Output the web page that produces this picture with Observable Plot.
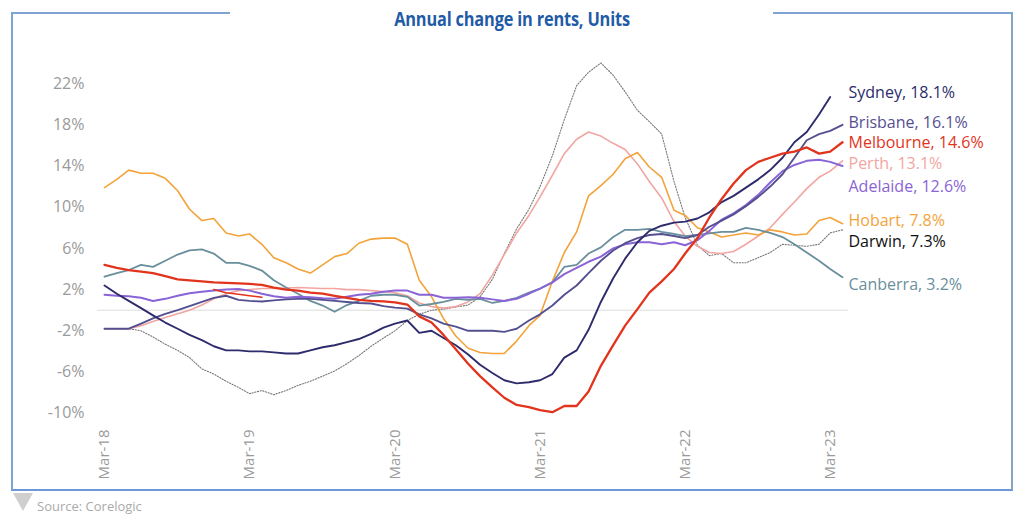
<!DOCTYPE html>
<html><head><meta charset="utf-8">
<script src="https://cdn.jsdelivr.net/npm/d3@7"></script>
<script src="https://cdn.jsdelivr.net/npm/@observablehq/plot@0.6"></script>
<style>
body{margin:0;background:#fff;width:1024px;height:527px;position:relative;overflow:hidden;font-family:"Open Sans",sans-serif;}
#chart{position:absolute;left:0;top:0;}
#frame{position:absolute;left:11px;top:12px;width:1002px;height:479px;box-sizing:border-box;border-left:2px solid #7fa3d3;border-right:2px solid #86a6bf;border-bottom:2px solid #6d98d8;pointer-events:none;}
.topline{position:absolute;top:12px;height:2px;background:#7fa3d3;}
#titlewrap{position:absolute;top:6px;left:0;width:1024px;text-align:center;}
#title{display:inline-block;font-family:"Open Sans",sans-serif;font-weight:bold;font-size:19px;color:#1f5ba7;transform:scaleX(0.86);transform-origin:center;letter-spacing:-0.2px;}
#tri{position:absolute;left:13px;top:493px;width:0;height:0;border-left:10px solid transparent;border-right:10px solid transparent;border-top:18px solid #cfcfcf;}
#source{position:absolute;left:37px;top:497px;font-size:13px;color:#aaa;font-family:"Open Sans",sans-serif;}
</style></head>
<body>
<div id="chart"></div>
<div id="frame"></div>
<div class="topline" style="left:11px;width:219px"></div>
<div class="topline" style="left:773px;width:240px"></div>
<div id="titlewrap"><span id="title">Annual change in rents, Units</span></div>
<div id="tri"></div>
<div id="source">Source: Corelogic</div>
<script>
// Monthly series, Mar-18 .. Apr-23 (annual % change in unit rents)
const tickLabels = ["Mar-18","Mar-19","Mar-20","Mar-21","Mar-22","Mar-23"];
const yTicks = [-10,-6,-2,2,6,10,14,18,22];
const cities = ["Sydney","Brisbane","Melbourne","Perth","Adelaide","Hobart","Darwin","Canberra"];
const labelText = ["Sydney, 18.1%","Brisbane, 16.1%","Melbourne, 14.6%","Perth, 13.1%","Adelaide, 12.6%","Hobart, 7.8%","Darwin, 7.3%","Canberra, 3.2%"];
const labelPos = [21.1, 18.2, 16.2, 14.2, 12.0, 8.7, 6.6, 2.5];

const sydney = [2.4,1.6,0.9,0.2,-0.5,-1.2,-1.8,-2.4,-2.9,-3.5,
 -3.9,-3.9,-4.0,-4.0,-4.1,-4.2,-4.2,-3.9,-3.6,-3.4,
 -3.1,-2.8,-2.3,-1.7,-1.3,-1.0,-2.2,-2.0,-2.7,-3.4,
 -4.3,-5.3,-6.1,-6.8,-7.1,-7.0,-6.8,-6.2,-4.6,-3.9,
 -1.9,0.8,3.1,5.0,6.6,7.7,8.2,8.5,8.6,8.9,
 9.5,10.5,11.1,11.9,12.7,13.6,14.8,16.3,17.3,19.0,
 20.7];
const brisbane = [-1.8,-1.8,-1.8,-1.3,-0.8,-0.35,0.0,0.4,0.8,1.2,
 1.4,1.0,0.9,0.85,0.95,1.05,1.1,1.1,1.0,0.9,
 0.8,0.7,0.65,0.4,0.25,0.15,-0.4,-0.8,-1.3,-1.6,
 -2.0,-2.0,-2.0,-2.1,-1.8,-1.0,-0.4,0.45,1.5,2.4,
 3.6,4.8,5.8,6.5,7.0,7.3,7.4,7.2,7.0,7.3,
 8.1,8.7,9.3,10.1,11.0,12.0,13.2,14.8,16.5,17.1,
 17.4,18.0];
const melbourne = [4.4,4.1,3.9,3.75,3.6,3.3,3.0,2.9,2.8,2.7,
 2.65,2.6,2.55,2.45,2.2,2.0,1.9,1.7,1.6,1.4,
 1.2,1.0,0.9,0.85,0.75,0.55,-0.6,-1.2,-2.4,-3.8,
 -5.2,-6.4,-7.5,-8.5,-9.2,-9.4,-9.7,-9.9,-9.3,-9.3,
 -7.9,-5.4,-3.4,-1.5,0.1,1.7,2.8,4.0,5.5,7.0,
 9.0,10.8,12.3,13.6,14.4,14.8,15.2,15.4,15.8,15.2,
 15.4,16.3];
const melbourneOverlap = [2.0,1.7,1.55,1.4,1.25]; // short stray segment, Dec-18 .. Apr-19
const perth = [-1.8,-1.8,-1.8,-1.5,-1.1,-0.7,-0.35,0.0,0.5,1.1,
 1.6,1.9,2.0,2.1,2.1,2.15,2.2,2.15,2.1,2.1,
 2.0,2.0,1.9,1.8,1.7,1.4,0.7,0.35,0.2,0.35,
 0.8,1.6,3.4,5.4,7.5,9.2,11.0,13.1,15.2,16.6,
 17.3,16.9,16.2,15.6,14.2,12.5,10.9,8.6,7.2,6.2,
 5.6,5.5,5.7,6.4,7.2,8.0,9.3,10.5,11.8,12.9,
 13.5,14.5];
const adelaide = [1.5,1.4,1.35,1.2,0.9,1.1,1.4,1.65,1.8,1.9,
 2.0,2.05,1.9,1.6,1.35,1.2,1.3,1.25,1.15,1.1,
 1.3,1.5,1.6,1.8,1.9,1.9,1.5,1.5,1.2,1.2,
 1.25,1.2,1.05,0.9,1.1,1.6,2.1,2.7,3.5,4.1,
 4.7,5.2,6.0,6.4,6.6,6.6,6.4,6.6,6.3,6.8,
 7.7,8.8,9.4,10.2,11.2,12.4,13.5,14.1,14.5,14.6,
 14.4,14.0];
const hobart = [11.9,12.7,13.6,13.3,13.3,12.8,11.6,9.8,8.7,8.9,
 7.5,7.2,7.4,6.4,5.1,4.6,4.0,3.6,4.4,5.2,
 5.5,6.5,6.9,7.0,7.0,6.4,2.9,1.3,-0.8,-2.5,
 -3.7,-4.1,-4.2,-4.2,-3.0,-1.5,-0.5,2.8,5.6,7.6,
 11.1,12.1,13.2,14.7,15.3,13.9,12.9,9.7,9.2,8.0,
 7.6,7.1,7.3,7.5,7.3,7.8,7.6,7.3,7.4,8.7,
 9.0,8.4];
const darwin = [-1.8,-1.8,-1.8,-2.0,-2.6,-3.3,-3.9,-4.6,-5.7,-6.2,
 -6.9,-7.5,-8.1,-7.8,-8.2,-7.8,-7.3,-6.9,-6.4,-5.9,
 -5.2,-4.4,-3.5,-2.7,-2.0,-1.0,-0.4,0.0,0.1,0.3,
 0.5,1.3,3.0,5.5,7.9,9.8,12.0,15.0,18.5,21.8,
 23.1,24.0,22.8,21.2,19.4,18.3,17.1,12.5,9.0,6.3,
 5.3,5.5,4.6,4.6,5.1,5.6,6.4,6.3,6.2,6.4,
 7.5,7.8];
const canberra = [3.25,3.6,3.9,4.4,4.2,4.8,5.4,5.8,5.9,5.5,
 4.6,4.6,4.3,3.85,2.9,2.2,1.6,0.9,0.45,-0.15,
 0.5,0.9,1.4,1.5,1.5,1.3,0.45,0.6,0.8,1.1,
 1.0,1.1,0.7,0.9,1.2,1.7,2.1,2.7,4.2,4.4,
 5.5,6.1,7.1,7.8,7.8,7.9,7.6,7.4,7.2,7.3,
 7.45,7.6,7.6,8.0,7.8,7.5,7.1,6.4,5.6,4.8,
 4.0,3.2];

const colors = {Sydney:"#2d2b6b",Brisbane:"#545090",Melbourne:"#e2341c",Perth:"#f2a6a2",Adelaide:"#8a64d6",Hobart:"#f2a33a",Darwin:"#777",Canberra:"#6a8f9c"};
const labelColors = ["#2d2b6b","#545090","#e2341c","#f2a6a2","#8a64d6","#f2a33a","#111","#6a8f9c"];

const parse = d3.utcParse("%b-%y");
const start = parse("Mar-18");
const months = d3.utcMonth.range(start, d3.utcMonth.offset(start, 62));
const series = {Sydney:sydney,Brisbane:brisbane,Melbourne:melbourne,Perth:perth,Adelaide:adelaide,Hobart:hobart,Darwin:darwin,Canberra:canberra};
const rows = name => series[name].map((v,i)=>({date:months[i], value:v}));
const overlapRows = melbourneOverlap.map((v,i)=>({date:months[9+i], value:v}));
const labels = cities.map((c,i)=>({city:c, text:labelText[i], pos:labelPos[i], color:labelColors[i], date:months[61]}));

const line = (name, opts) => Plot.lineY(rows(name), {x:"date", y:"value", stroke:colors[name], ...opts});

const chart = Plot.plot({
  width:1024, height:490,
  marginLeft:104, marginRight:182, marginTop:60, marginBottom:67,
  style:{background:"transparent", fontFamily:"'Open Sans', sans-serif"},
  x:{type:"utc", domain:[months[0], months[61]]},
  y:{domain:[-11, 24.24]},
  marks:[
    Plot.ruleY([0], {stroke:"#dcdcdc", strokeWidth:1, insetLeft:-7, insetRight:-6}),
    Plot.axisY({ticks:yTicks, tickFormat:d=>d+"%", tickSize:0, tickPadding:20, fontSize:16, fill:"#9a9a9a", label:null}),
    Plot.axisX({ticks:tickLabels.map(parse), tickFormat:d3.utcFormat("%b-%y"), tickRotate:-90, tickSize:0, tickPadding:6, fontSize:15, fill:"#9a9a9a", label:null}),
    line("Darwin", {strokeWidth:1.1, strokeDasharray:"1.2,1.6"}),
    line("Perth", {strokeWidth:1.6}),
    line("Hobart", {strokeWidth:1.6}),
    line("Canberra", {strokeWidth:1.8}),
    line("Adelaide", {strokeWidth:2}),
    line("Brisbane", {strokeWidth:1.9}),
    line("Sydney", {strokeWidth:1.9}),
    line("Melbourne", {strokeWidth:2.3}),
    Plot.lineY(overlapRows, {x:"date", y:"value", stroke:colors.Melbourne, strokeWidth:1.5}),
    Plot.text(labels, {x:"date", y:"pos", text:"text", fill:"color", textAnchor:"start", dx:6, fontSize:16})
  ]
});
document.getElementById("chart").appendChild(chart);
</script>
</body></html>
